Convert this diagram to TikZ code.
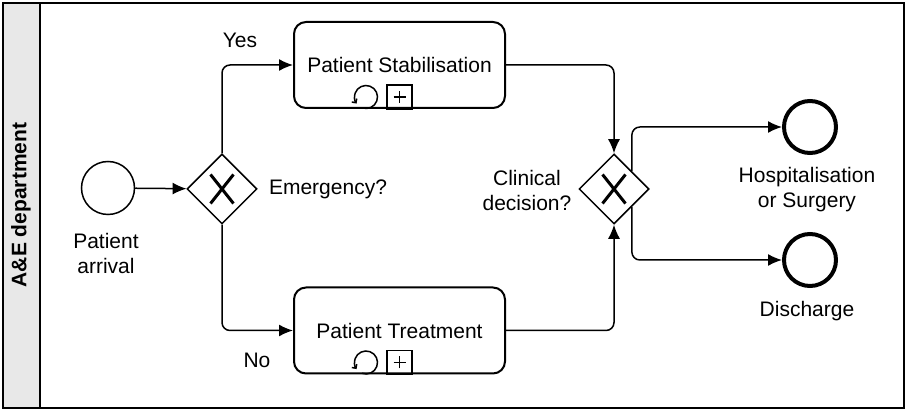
\documentclass[tikz,border=0pt]{standalone}
\usepackage{fontspec}
\setmainfont{Liberation Sans}
\usetikzlibrary{arrows.meta}
\usetikzlibrary{shapes.geometric}
\usetikzlibrary{calc}

\begin{document}
\begin{tikzpicture}[x=1pt,y=1pt]
\tikzset{>={Latex[width=12pt,length=14pt]}}
\tikzset{every node/.style={font=\fontsize{21}{25}\selectfont}}
\tikzstyle{event} =[circle,draw,line width=1.5pt,minimum size=53pt,inner sep=0pt]
\tikzstyle{endevent} =[circle,draw,line width=4pt,minimum size=52pt,inner sep=0pt]
\tikzstyle{gateway} =[diamond,draw,line width=1.5pt,minimum width=70pt,minimum height=70pt,inner sep=0pt]
\tikzstyle{task} =[rectangle,draw,rounded corners=12pt,line width=2pt,minimum width=211pt,minimum height=86pt]
\tikzstyle{flow} =[->,line width=1.5pt,rounded corners=8pt]
\tikzstyle{txt} =[align=center,inner sep=0pt]

\useasboundingbox (0,0) rectangle (908,-411);
\fill[white] (0,0) rectangle (908,-411);

% lane
\fill[black!9] (3,-3) rectangle (40,-408);
\draw[line width=2pt] (3,-3) rectangle (904,-408);
\draw[line width=2pt] (40,-3) -- (40,-408);
\node[rotate=90,font=\fontsize{21}{25}\selectfont\bfseries](lane) at (21,-205){A\&E department};

% flow objects
\node[event](start) at (108,-188){};
\node[gateway](gw1) at (222,-189){};
\node[task](stab) at (399.5,-65){Patient Stabilisation};
\node[task](treat) at (399.5,-330.5){Patient Treatment};
\node[gateway](gw2) at (614,-189){};
\node[endevent](hosp) at (810,-127){};
\node[endevent](disch) at (810,-260){};

% gateway markers
\foreach \g in {gw1,gw2}{
  \draw[line width=3pt] ($(\g)+(-11.5,14.5)$) -- ($(\g)+(11.5,-14.5)$);
  \draw[line width=3pt] ($(\g)+(-11.5,-14.5)$) -- ($(\g)+(11.5,14.5)$);
}

% loop and sub-process markers
\foreach \t in {stab,treat}{
  \draw[line width=1.5pt] ($(\t.south)+(-12.5,0)$) rectangle ++(25,24);
  \draw[line width=1.2pt] ($(\t.south)+(-6,12)$) -- ++(12,0);
  \draw[line width=1.2pt] ($(\t.south)+(0,6)$) -- ++(0,12);
  \draw[line width=1.5pt,-{Straight Barb[length=3pt,width=6pt]}] ($(\t.south)+(-33.5,12)+(-110:11.5)$) arc[start angle=-110,end angle=215,radius=11.5];
}

% labels
\node[txt](arrlbl) at (106,-253){Patient\\arrival};
\node[txt](yes) at (240,-40){Yes};
\node[txt](no) at (257,-360){No};
\node[txt](emlbl) at (328,-189){Emergency?};
\node[txt](cllbl) at (527,-190){Clinical\\decision?};
\node[txt](hosplbl) at (807,-190){Hospitalisation\\or Surgery};
\node[txt](dislbl) at (807,-311){Discharge};

% sequence flows
\draw[flow] (start) -- (gw1);
\draw[flow] (gw1.north) |- (stab);
\draw[flow] (gw1.south) |- (treat);
\draw[flow] (stab) -| (gw2);
\draw[flow] (treat) -| (gw2);
\draw[flow] ($(gw2.north)!.5!(gw2.east)$) |- (hosp);
\draw[flow] ($(gw2.south)!.5!(gw2.east)$) |- (disch);

\end{tikzpicture}
\end{document}
